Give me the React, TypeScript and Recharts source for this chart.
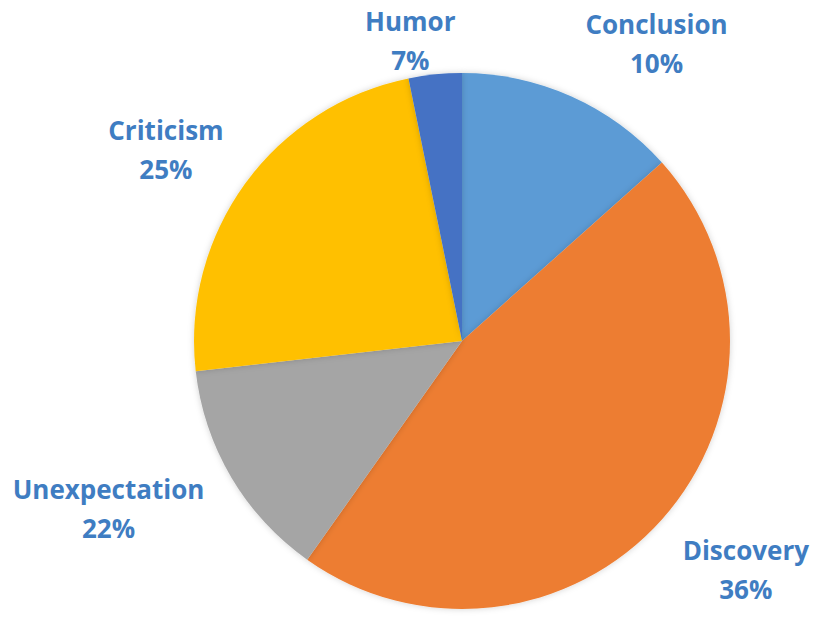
import { Cell, Pie, PieChart } from "recharts";

// Slice sizes as drawn in the picture (the printed percentages are separate text).
const categories = ["Conclusion", "Discovery", "Unexpectation", "Criticism", "Humor"];
const sliceValues = [13.4, 46.4, 13.4, 23.6, 3.2];
const printedPercents = ["10%", "36%", "22%", "25%", "7%"];

const COLORS = ["#5b9bd5", "#ed7d31", "#a5a5a5", "#ffc000", "#4472c4"];
const LABEL_COLOR = "#3f7dc2";

// Excel places labels a little off the slice bisector; nudge per slice.
const LABEL_NUDGE = [
  { angle: -9, offset: 88 },
  { angle: 3, offset: 96 },
  { angle: -5.3, offset: 123 },
  { angle: 3, offset: 85 },
  { angle: 4, offset: 37 },
];

const RAD = Math.PI / 180;

const data = categories.map((name, i) => ({
  name,
  value: sliceValues[i],
  pct: printedPercents[i],
}));

function renderLabel(props: any) {
  const { cx, cy, midAngle, outerRadius, index } = props;
  const nudge = LABEL_NUDGE[index];
  const a = (midAngle + nudge.angle) * RAD;
  const r = outerRadius + nudge.offset;
  const x = cx + r * Math.cos(a);
  const y = cy - r * Math.sin(a);
  return (
    <text
      x={x}
      y={y}
      textAnchor="middle"
      fill={LABEL_COLOR}
      fontFamily="'Open Sans', Lato, sans-serif"
      fontWeight={700}
      fontSize={26}
    >
      <tspan x={x} dy={-9}>
        {data[index].name}
      </tspan>
      <tspan x={x} dy={39}>
        {data[index].pct}
      </tspan>
    </text>
  );
}

export default function App() {
  return (
    <div style={{ position: "absolute", left: 0, top: 0, width: 827, height: 632, background: "#fff" }}>
      <PieChart width={827} height={632} margin={{ top: 0, right: 0, bottom: 0, left: 0 }}>
        <defs>
          <filter id="soft" x="-10%" y="-10%" width="120%" height="120%">
            <feDropShadow dx="0" dy="0" stdDeviation="3" floodColor="#000" floodOpacity="0.18" />
          </filter>
        </defs>
        <Pie
          data={data}
          dataKey="value"
          nameKey="name"
          cx={462}
          cy={341}
          outerRadius={268}
          startAngle={90}
          endAngle={-270}
          stroke="none"
          label={renderLabel}
          labelLine={false}
          isAnimationActive={false}
          style={{ filter: "url(#soft)" }}
        >
          {data.map((d, i) => (
            <Cell key={d.name} fill={COLORS[i]} />
          ))}
        </Pie>
      </PieChart>
    </div>
  );
}
